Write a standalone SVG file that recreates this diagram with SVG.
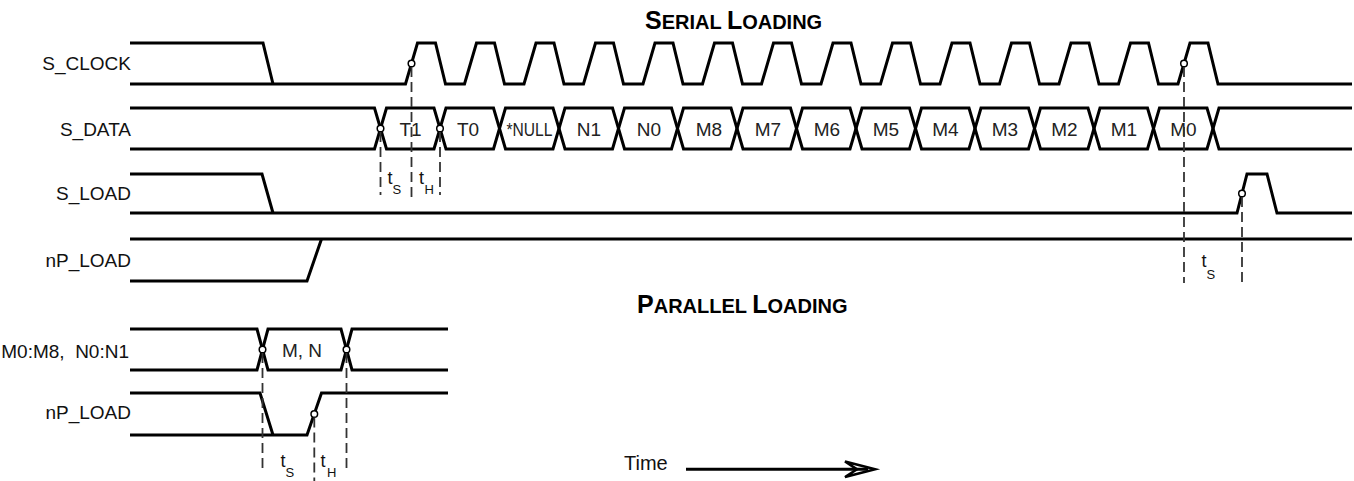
<svg xmlns="http://www.w3.org/2000/svg" width="1354" height="481" viewBox="0 0 1354 481">
<style>
.sig{fill:none;stroke:#000;stroke-width:3;stroke-linejoin:miter;stroke-linecap:butt}
.dash{fill:none;stroke:#333;stroke-width:1.8;stroke-dasharray:10,5}
.dot{fill:#fff;stroke:#000;stroke-width:1.5}
.lbl{font-family:"Liberation Sans",Arial,Helvetica,sans-serif;font-size:19px;fill:#111;text-anchor:end}
.cell{font-family:"Liberation Sans",Arial,Helvetica,sans-serif;font-size:19px;fill:#222;text-anchor:middle}
.tt{font-family:"Liberation Sans",Arial,Helvetica,sans-serif;font-size:18px;fill:#111}
.sub{font-size:13px}
.title{font-family:"Liberation Sans",Arial,Helvetica,sans-serif;font-weight:bold;font-size:20px;fill:#000}
.big{font-size:25px}
</style>
<rect width="1354" height="481" fill="#fff"/>

<text class="title" x="645" y="29"><tspan class="big">S</tspan>ERIAL <tspan class="big">L</tspan>OADING</text>
<text class="title" x="637" y="313"><tspan class="big">P</tspan>ARALLEL <tspan class="big">L</tspan>OADING</text>

<g id="s_clock">
<text class="lbl" x="131" y="70">S_CLOCK</text>
<path class="sig" d="M130,43 H263 L273,84"/>
<path class="sig" d="M130,84 H405.5 L417.5,43 H435.5 L445.5,84 H464.5 L476.5,43 H494.5 L504.5,84 H524 L536,43 H554 L564,84 H583.5 L595.5,43 H613.5 L623.5,84 H643 L655,43 H673 L683,84 H702.5 L714.5,43 H732.5 L742.5,84 H761.5 L773.5,43 H791.5 L801.5,84 H821 L833,43 H851 L861,84 H880.5 L892.5,43 H910.5 L920.5,84 H940 L952,43 H970 L980,84 H999.5 L1011.5,43 H1029.5 L1039.5,84 H1059 L1071,43 H1089 L1099,84 H1118.5 L1130.5,43 H1148.5 L1158.5,84 H1178 L1190,43 H1208 L1218,84 H1352"/>
<circle class="dot" cx="411.5" cy="63.5" r="3.3"/>
<circle class="dot" cx="1184" cy="63.5" r="3.3"/>
</g>

<g id="s_data">
<text class="lbl" x="131" y="135.5">S_DATA</text>
<path class="sig" d="M130,108 H374.5 L386.5,149 H434 L446,108 H493.5 L505.5,149 H553 L565,108 H612.5 L624.5,149 H671.5 L683.5,108 H731 L743,149 H790.5 L802.5,108 H850 L862,149 H909.5 L921.5,108 H969 L981,149 H1028.5 L1040.5,108 H1088 L1100,149 H1147.5 L1159.5,108 H1207 L1219,149 H1352"/>
<path class="sig" d="M130,149 H374.5 L386.5,108 H434 L446,149 H493.5 L505.5,108 H553 L565,149 H612.5 L624.5,108 H671.5 L683.5,149 H731 L743,108 H790.5 L802.5,149 H850 L862,108 H909.5 L921.5,149 H969 L981,108 H1028.5 L1040.5,149 H1088 L1100,108 H1147.5 L1159.5,149 H1207 L1219,108 H1352"/>
<text class="cell" x="410.5" y="136">T1</text>
<text class="cell" x="468" y="136">T0</text>
<text class="cell" x="529.5" y="136" textLength="46" lengthAdjust="spacingAndGlyphs">*NULL</text>
<text class="cell" x="589" y="136">N1</text>
<text class="cell" x="649" y="136">N0</text>
<text class="cell" x="709" y="136">M8</text>
<text class="cell" x="768" y="136">M7</text>
<text class="cell" x="827" y="136">M6</text>
<text class="cell" x="886" y="136">M5</text>
<text class="cell" x="945.5" y="136">M4</text>
<text class="cell" x="1005" y="136">M3</text>
<text class="cell" x="1064.5" y="136">M2</text>
<text class="cell" x="1124" y="136">M1</text>
<text class="cell" x="1183.5" y="136">M0</text>
<circle class="dot" cx="380.5" cy="128.5" r="3.3"/>
<circle class="dot" cx="440" cy="128.5" r="3.3"/>
</g>

<g id="s_load">
<text class="lbl" x="131" y="200">S_LOAD</text>
<path class="sig" d="M130,174 H262 L273,213"/>
<path class="sig" d="M130,213 H1237 L1247,174 H1267 L1277,213 H1352"/>
<circle class="dot" cx="1242" cy="193.5" r="3.3"/>
</g>

<g id="np_load_serial">
<text class="lbl" x="131" y="267">nP_LOAD</text>
<path class="sig" d="M130,239 H1352"/>
<path class="sig" d="M130,281 H307 L321.5,239"/>
</g>

<g id="mn_data">
<text class="lbl" x="129" y="358" xml:space="preserve">M0:M8,  N0:N1</text>
<path class="sig" d="M130,329 H257 L268,370 H341 L352,329 H448"/>
<path class="sig" d="M130,370 H257 L268,329 H341 L352,370 H448"/>
<text class="cell" x="302" y="357">M, N</text>
<circle class="dot" cx="262.5" cy="349.5" r="3.3"/>
<circle class="dot" cx="346.5" cy="349.5" r="3.3"/>
</g>

<g id="np_load_parallel">
<text class="lbl" x="131" y="419">nP_LOAD</text>
<path class="sig" d="M130,393 H260 L273,435"/>
<path class="sig" d="M130,435 H307 L321.5,393 H448"/>
<circle class="dot" cx="314.3" cy="414" r="3.3"/>
</g>

<g id="connectors">
<line class="dash" x1="380.5" y1="132" x2="380.5" y2="195"/>
<line class="dash" x1="411.5" y1="67" x2="411.5" y2="202"/>
<line class="dash" x1="440" y1="132" x2="440" y2="195"/>
<line class="dash" x1="1184" y1="67" x2="1184" y2="283"/>
<line class="dash" x1="1242" y1="197" x2="1242" y2="283"/>
<line class="dash" x1="262.5" y1="353" x2="262.5" y2="473"/>
<line class="dash" x1="314.3" y1="417.5" x2="314.3" y2="481"/>
<line class="dash" x1="346.5" y1="353" x2="346.5" y2="473"/>
</g>

<g id="timing_labels">
<text class="tt" x="387.5" y="184">t<tspan class="sub" dy="10">S</tspan></text>
<text class="tt" x="419" y="184">t<tspan class="sub" dy="10" dx="0.5">H</tspan></text>
<text class="tt" x="1201.5" y="267">t<tspan class="sub" dy="12">S</tspan></text>
<text class="tt" x="280.5" y="466.5">t<tspan class="sub" dy="10">S</tspan></text>
<text class="tt" x="320.5" y="466.5">t<tspan class="sub" dy="10" dx="1.5">H</tspan></text>
</g>

<g id="time_axis">
<text class="tt" x="624" y="470" style="font-size:20px">Time</text>
<line x1="686" y1="469.3" x2="868" y2="469.3" stroke="#000" stroke-width="3"/>
<path d="M845,461.5 L875,469.3 L845,477 L857,469.3 Z" fill="none" stroke="#000" stroke-width="2.6" stroke-linejoin="miter"/>
</g>
</svg>
